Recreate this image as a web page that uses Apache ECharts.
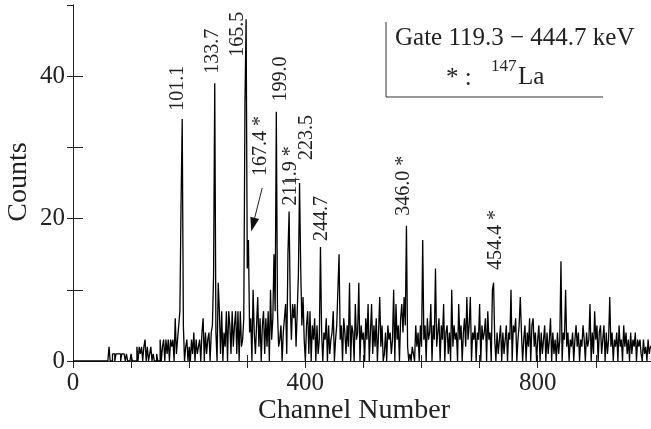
<!DOCTYPE html>
<html>
<head>
<meta charset="utf-8">
<script src="https://cdn.jsdelivr.net/npm/echarts@6/dist/echarts.min.js"></script>
<style>
html,body{margin:0;padding:0;background:#fff;}
#c{width:651px;height:429px;}
</style>
</head>
<body>
<div id="c"></div>
<script>
// ---- data: counts per 2-channel bin, blocks of 100 channels ----
const binWidth = 2;
const counts000 = [0,0,0,0,0,0,0,0,0,0, 0,0,0,0,0,0,0,0,0,0, 0,0,0,0,0,0,0,0,0,0, 0,2,0,0,1,1,0,1,1,1, 1,0,1,1,1,0,1,0,0,0];
const counts100 = [1,0,0,0,0,2,0,2,1,2, 0,2,3,0,2,0,1,2,0,1, 0,0,1,0,0,3,0,2,3,0, 3,1,3,0,3,2,3,0,6,1, 3,5,7,22,34,5,0,2,3,0];
const counts200 = [2,0,3,1,4,0,3,1,2,3, 0,4,6,0,4,1,3,4,0,4, 5,12,39,4,0,11,7,1,7,0, 4,2,7,0,7,5,1,7,2,5, 7,1,7,0,7,2,3,6,36,48];
const counts300 = [13,17,4,6,0,10,4,1,5,9, 2,6,0,5,7,1,6,2,7,0, 10,3,6,15,7,35,7,2,3,5, 0,4,6,8,1,15,21,8,3,8, 6,8,2,7,12,25,13,5,9,3];
const counts400 = [0,5,7,1,7,0,5,3,6,0, 5,1,3,16,4,0,4,3,6,0, 5,1,3,4,7,0,3,5,10,15, 3,5,0,6,4,1,5,2,11,0, 5,4,0,8,3,4,11,0,5,3];
const counts500 = [4,0,6,3,8,0,4,8,1,5, 2,6,0,4,9,2,5,0,1,4, 0,5,3,4,1,3,10,0,8,3, 5,0,6,8,4,9,5,19,2,0, 1,0,2,1,0,5,2,4,0,5];
const counts600 = [2,17,3,5,0,6,3,4,8,0, 5,3,13,2,4,6,0,5,3,8, 0,4,5,1,4,0,10,2,5,3, 4,0,8,3,5,0,4,6,2,9, 3,5,9,0,4,3,5,0,4,3];
const counts700 = [8,0,5,3,4,6,0,7,3,4, 0,10,11,3,0,4,1,3,5,0, 4,1,3,5,0,4,3,10,0,5, 4,6,0,3,5,9,4,0,3,5, 0,4,2,6,0,5,6,2,4,0];
const counts800 = [3,5,0,4,1,3,5,0,4,1, 3,6,0,4,1,3,0,4,1,3, 14,0,4,3,10,2,4,0,3,2, 4,0,3,5,2,4,0,3,2,5, 3,0,4,2,3,8,0,4,1,7];
const counts900 = [3,5,0,4,5,1,3,5,0,4, 1,3,9,2,4,0,3,2,4,0, 5,2,3,0,5,2,4,1,3,0, 4,1,3,2,4,0,3,2,3,1, 0,3,1,2,0,3,1,2,2];

const xTickLabels = [0, 400, 800];
const yTickLabels = [0, 20, 40];
const peakLabels = ['101.1','133.7','165.5','167.4 *','199.0','211.9 *','223.5','244.7','346.0 *','454.4 *'];
const gateText = 'Gate 119.3 \u2212 444.7 keV';
const xTitle = 'Channel Number';
const yTitle = 'Counts';

// ---- layout (positions, not data) ----
const labelAnchors = [[180,38.3],[240,43.5],[283,45.9],[324,30.2],[357,39.6],[375,26],[403,31.4],[429,20],[569,24.6],[727,17]];
const FONT = '"Liberation Serif","DejaVu Serif",serif';
const INK = '#222';

const blocks = [counts000,counts100,counts200,counts300,counts400,counts500,counts600,counts700,counts800,counts900];
const series = [];
blocks.forEach((b, bi) => b.forEach((v, i) => series.push([bi*100 + i*binWidth, v])));

const chart = echarts.init(document.getElementById('c'), null, {renderer:'canvas', width:651, height:429});
const axisLineStyle = {color:'#222', width:1};
chart.setOption({
  animation:false,
  backgroundColor:'#fff',
  grid:{left:73, top:5, width:580, height:356, containLabel:false},
  xAxis:[
    {type:'value', position:'bottom', min:0, max:995, interval:100,
     axisLine:{show:true, lineStyle:axisLineStyle},
     axisTick:{show:true, inside:true, length:6, lineStyle:axisLineStyle},
     splitLine:{show:false},
     axisLabel:{show:true, margin:10, fontSize:25, fontFamily:FONT, color:INK, showMaxLabel:false,
       formatter:v => xTickLabels.indexOf(v) >= 0 ? String(v) : ''}},
    {type:'value', position:'top', min:0, max:995, interval:100,
     axisLine:{show:true, lineStyle:axisLineStyle},
     axisTick:{show:true, inside:true, length:7, lineStyle:axisLineStyle},
     splitLine:{show:false}, axisLabel:{show:false}}
  ],
  yAxis:[
    {type:'value', position:'left', min:0, max:50, interval:10,
     axisLine:{show:true, lineStyle:axisLineStyle},
     axisTick:{show:true, inside:true, length:10, lineStyle:axisLineStyle},
     splitLine:{show:false},
     axisLabel:{show:true, margin:8, fontSize:25, fontFamily:FONT, color:INK, showMaxLabel:false,
       formatter:v => yTickLabels.indexOf(v) >= 0 ? String(v) : ''}},
    {type:'value', position:'right', min:0, max:50, interval:10,
     axisLine:{show:true, lineStyle:axisLineStyle},
     axisTick:{show:true, inside:true, length:6, lineStyle:axisLineStyle},
     splitLine:{show:false}, axisLabel:{show:false}}
  ],
  series:[{
    type:'line', step:'end', xAxisIndex:0, yAxisIndex:0, data:series,
    symbol:'none', clip:true, sampling:null,
    lineStyle:{color:'#000', width:1.3}
  }]
});

// ---- annotations ----
const px = p => chart.convertToPixel({gridIndex:0}, p);
const g = [];
peakLabels.forEach((t, i) => {
  const p = px(labelAnchors[i]);
  g.push({type:'text', x:p[0], y:p[1], rotation:Math.PI/2,
    style:{text:t, font:'20px ' + FONT, fill:INK, align:'center', verticalAlign:'middle'}});
});
// arrow to 167.4 peak
const a0 = px([325.7, 24.3]), a1 = px([306.9, 18.2]);
const dx = a1[0]-a0[0], dy = a1[1]-a0[1], L = Math.hypot(dx, dy), ux = dx/L, uy = dy/L;
const hl = 14, hw = 4.5;
const base = [a1[0]-ux*hl, a1[1]-uy*hl];
g.push({type:'line', shape:{x1:a0[0], y1:a0[1], x2:base[0], y2:base[1]}, style:{stroke:'#222', lineWidth:1}});
g.push({type:'polygon', shape:{points:[a1, [base[0]-uy*hw, base[1]+ux*hw], [base[0]+uy*hw, base[1]-ux*hw]]}, style:{fill:'#111'}});
// short leader under 211.9
const u0 = px([365, 25.5]), u1 = px([390, 25.5]);
g.push({type:'line', shape:{x1:u0[0], y1:u0[1], x2:u1[0], y2:u1[1]}, style:{stroke:'#222', lineWidth:1}});
// legend box (left & bottom edges)
g.push({type:'polyline', shape:{points:[[386,22],[386,97],[603,97]]}, style:{stroke:'#333', lineWidth:1, fill:null}});
g.push({type:'text', x:395, y:38, style:{text:gateText, font:'25px ' + FONT, fill:INK, align:'left', verticalAlign:'middle'}});
g.push({type:'text', x:446, y:78, style:{text:'* :', font:'25px ' + FONT, fill:INK, align:'left', verticalAlign:'middle'}});
g.push({type:'text', x:491, y:67, style:{text:'147', font:'17px ' + FONT, fill:INK, align:'left', verticalAlign:'middle'}});
g.push({type:'text', x:518, y:77, style:{text:'La', font:'25px ' + FONT, fill:INK, align:'left', verticalAlign:'middle'}});
// axis titles
g.push({type:'text', x:354, y:411, style:{text:xTitle, font:'28px ' + FONT, fill:INK, align:'center', verticalAlign:'middle'}});
g.push({type:'text', x:19, y:182, rotation:Math.PI/2, style:{text:yTitle, font:'28px ' + FONT, fill:INK, align:'center', verticalAlign:'middle'}});
chart.setOption({graphic:g});
</script>
</body>
</html>
